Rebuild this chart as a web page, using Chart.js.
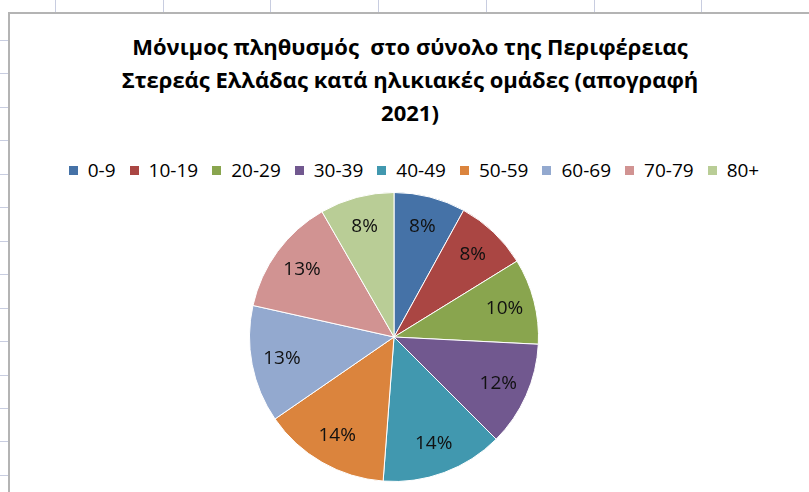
<!DOCTYPE html>
<html>
<head>
<meta charset="utf-8">
<script src="https://cdn.jsdelivr.net/npm/chart.js@4/dist/chart.umd.min.js"></script>
<style>
  body { margin: 0; width: 809px; height: 492px; overflow: hidden; background: #fff; position: relative; font-family: 'Open Sans', sans-serif; }
  .tick { position: absolute; background: #c8cde0; }
  .frame { position: absolute; left: 8px; top: 12px; width: 840px; height: 520px; border-left: 2px solid #b4b4b4; border-top: 2px solid #b4b4b4; }
  #title { position: absolute; left: 9px; width: 802px; top: 30px; text-align: center; font-weight: bold; font-size: 22px; line-height: 33px; color: #000; white-space: nowrap; }
  #legend { position: absolute; left: 9px; width: 810px; top: 157px; display: flex; justify-content: center; font-size: 19px; line-height: 26px; color: #000; }
  .leg-item { display: flex; align-items: center; margin: 0 7px; }
  .leg-sq { width: 9px; height: 9px; margin-right: 10px; }
  #c-pie { position: absolute; left: 0; top: 0; }
</style>
</head>
<body>
<div id="ticks"></div>
<div class="frame"></div>
<div id="title">Μόνιμος πληθυσμός&nbsp; στο σύνολο της Περιφέρειας<br>Στερεάς Ελλάδας κατά ηλικιακές ομάδες (απογραφή<br>2021)</div>
<div id="legend"></div>
<canvas id="c-pie" width="809" height="492"></canvas>
<script>
const ageGroups = ['0-9', '10-19', '20-29', '30-39', '40-49', '50-59', '60-69', '70-79', '80+'];
const shares    = [8.0, 8.2, 9.6, 11.7, 13.7, 14.2, 13.1, 13.2, 8.3];
const colors    = ['#4572a7', '#aa4643', '#89a54e', '#71588f', '#4198af', '#db843d', '#93a9cf', '#d19392', '#b9cd96'];

// spreadsheet grid stubs around the chart frame
const tk = document.getElementById('ticks');
for (let i = 0; i < 14; i++) {
  const y = Math.round(40 + i * 33.45);
  tk.insertAdjacentHTML('beforeend', `<div class="tick" style="left:0;top:${y}px;width:8px;height:1px"></div>`);
}
for (let i = 0; i < 8; i++) {
  const x = Math.round(55 + i * 107.7);
  tk.insertAdjacentHTML('beforeend', `<div class="tick" style="left:${x}px;top:0;width:1px;height:12px"></div>`);
}

document.getElementById('legend').innerHTML = ageGroups.map((g, i) =>
  `<span class="leg-item"><span class="leg-sq" style="background:${colors[i]}"></span>${g}</span>`).join('');

const pctLabels = {
  id: 'pctLabels',
  afterDatasetsDraw(chart) {
    const ctx = chart.ctx;
    const meta = chart.getDatasetMeta(0);
    const total = shares.reduce((a, b) => a + b, 0);
    ctx.save();
    ctx.font = '19px "Open Sans"';
    ctx.fillStyle = '#111';
    ctx.textAlign = 'center';
    ctx.textBaseline = 'middle';
    meta.data.forEach((arc, i) => {
      const p = arc.getProps(['x', 'y', 'startAngle', 'endAngle', 'outerRadius']);
      const mid = (p.startAngle + p.endAngle) / 2;
      const r = p.outerRadius * 0.79;
      ctx.fillText(Math.round(shares[i] / total * 100) + '%', p.x + Math.cos(mid) * r, p.y + Math.sin(mid) * r);
    });
    ctx.restore();
  }
};

new Chart(document.getElementById('c-pie'), {
  type: 'pie',
  data: {
    labels: ageGroups,
    datasets: [{ data: shares, backgroundColor: colors, borderColor: '#fff', borderWidth: 1 }]
  },
  options: {
    responsive: false,
    animation: false,
    layout: { padding: { top: 192, bottom: 10, left: 0, right: 21 } },
    plugins: { legend: { display: false }, title: { display: false }, tooltip: { enabled: false } }
  },
  plugins: [pctLabels]
});
</script>
</body>
</html>
